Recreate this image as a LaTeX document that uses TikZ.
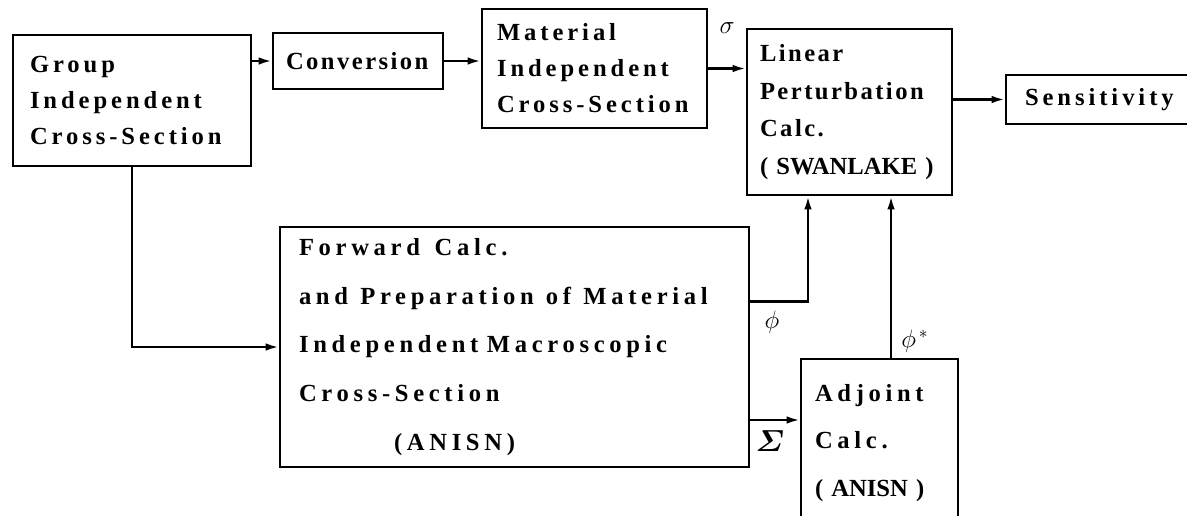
\documentclass[tikz,border=0pt]{standalone}
\usepackage{amsmath,bm}
\usepackage{fontspec}
\setmainfont{Liberation Serif}
\newfontfamily\boxfont{Liberation Serif}[LetterSpace=16]
\newfontfamily\tightfont{Liberation Serif}[LetterSpace=10]
\newfontfamily\widefont{Liberation Serif}[LetterSpace=19]
\newcommand\wgap[1][0.5em]{\hspace*{#1}}
\usetikzlibrary{positioning,arrows.meta,calc}
\begin{document}
\begin{tikzpicture}[x=0.02cm,y=-0.02cm,
  box/.style={draw=black,line width=1.5pt,fill=white,align=left,inner ysep=4pt,
    font=\boxfont\bfseries\fontsize{14}{20.5}\selectfont},
  arr/.style={-{Latex[length=2.6mm,width=1.5mm]},line width=1.3pt,draw=black},
  lbl/.style={font=\fontsize{14}{16}\selectfont,inner sep=0pt}]
\useasboundingbox (0,0) rectangle (1187,515);
\clip (0,0) rectangle (1187,515);
\fill[white] (0,0) rectangle (1187,515);
% top row
\node[box,minimum width=4.76cm,minimum height=2.62cm,inner xsep=0.34cm,text width=4.08cm] (grp) at (132,100.5)
  {Group\\Independent\\Cross-Section};
\node[box,minimum width=3.4cm,minimum height=1.12cm,inner xsep=0.26cm,text width=2.88cm,
  font=\tightfont\bfseries\fontsize{14}{16}\selectfont] (conv) at (358,61) {Conversion};
\node[box,minimum width=4.5cm,minimum height=2.38cm,inner xsep=0.3cm,text width=3.9cm] (mat) at (594.5,68.5)
  {Material\\Independent\\Cross-Section};
\node[box,minimum width=4.1cm,minimum height=3.32cm,inner xsep=0.26cm,text width=3.58cm,
  font=\tightfont\bfseries\fontsize{14}{21.5}\selectfont] (lin) at (849.5,112)
  {Linear\\Perturbation\\Calc.\\{\rmfamily( SWANLAKE )}};
\node[box,minimum width=4.28cm,minimum height=0.98cm,inner xsep=0.38cm,text width=3.52cm,
  font=\boxfont\bfseries\fontsize{14}{16}\selectfont] (sens) at (1113,99.5) {Sensitivity};
% bottom row
\node[box,minimum width=9.38cm,minimum height=4.8cm,inner xsep=0.38cm,text width=8.62cm,
  font=\widefont\bfseries\fontsize{14}{27.8}\selectfont] (fwd) at (514.5,347)
  {Forward\wgap[0.6em]Calc.\\and\wgap Preparation\wgap of\wgap Material\\
   Independent\wgap[0.35em]Macroscopic\\Cross-Section\\\hspace*{1.9cm}(ANISN)};
\node[box,minimum width=3.14cm,minimum height=3.36cm,inner xsep=0.28cm,text width=2.58cm,
  font=\widefont\bfseries\fontsize{14}{27}\selectfont] (adj) at (879.5,443)
  {Adjoint\\Calc.\\{\rmfamily( ANISN )}};
% connectors
\coordinate (phiin) at ($(lin.south west)!0.3!(lin.south east)$);
\coordinate (psin) at ($(lin.south west)!0.7!(lin.south east)$);
\coordinate (phiout) at ($(fwd.north east)!0.312!(fwd.south east)$);
\coordinate (sgin) at ([yshift=0.46cm]adj.west);
\draw[arr] (grp.east |- conv.west) -- (conv.west);
\draw[arr] (conv.east) -- (conv.east -| mat.west);
\draw[arr] (mat.east) -- (mat.east -| lin.west);
\draw[arr] (lin.east |- sens.west) -- (sens.west);
\draw[arr] (grp.south) |- (fwd.west);
\draw[arr] (phiout) -| (phiin);
\draw[arr] (psin |- adj.north) -- (psin);
\draw[arr] (sgin -| fwd.east) -- (sgin);
% labels
\node[lbl] (sig) at (727,28) {$\sigma$};
\node[lbl] (phi) at (772,322) {$\phi$};
\node[lbl] (phis) at (915,341) {$\phi^{\,*}$};
\node[lbl,font=\fontsize{16}{18}\selectfont] (sgm) at (770,441) {$\bm{\varSigma}$};
\end{tikzpicture}
\end{document}
